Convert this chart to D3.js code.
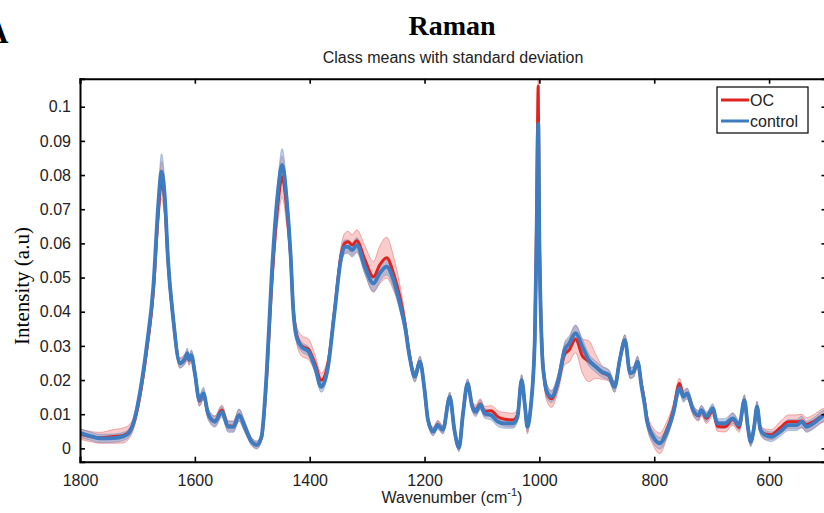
<!DOCTYPE html>
<html>
<head>
<meta charset="utf-8">
<script src="https://cdn.jsdelivr.net/npm/d3@7"></script>
<style>
  body { margin: 0; background: #fff; }
  svg { display: block; }
  .tick text { font-family: "Liberation Sans", Arial, sans-serif; font-size: 16px; fill: #222; }
</style>
</head>
<body>
<svg width="824" height="513"></svg>
<script>
// wavenumbers (cm-1)
const wavenumbers = [1800,1780,1765,1742,1725,1715,1707,1696,1684,1672,1664,1658,1652,1647,1638,1626,1617,1613,1610,1606,1600,1592,1585,1577,1565,1553,1542,1533,1523,1513,1501,1492,1484,1475,1466,1455,1448,1440,1433,1429,1423,1414,1402,1391,1380,1368,1357,1345,1339,1333,1326,1318,1304,1289,1278,1266,1254,1243,1234,1226,1217,1208,1200,1194,1185,1177,1168,1156,1148,1140,1133,1125,1117,1111,1103,1095,1084,1072,1060,1046,1038,1031,1025,1021,1015,1008,1005,1002,1000,998,995,991,988,979,967,956,948,937,925,914,902,891,879,869,860,851,842,836,829,822,816,813,802,790,779,767,756,749,743,732,723,718,709,698,690,677,663,652,643,637,632,626,621,615,607,596,581,566,552,543,535,523,508,500];

const controlMean = [.0045,.0035,.0029,.0030,.0035,.0045,.0074,.0160,.0297,.0480,.0707,.0810,.0727,.0560,.0385,.0249,.0263,.0278,.0260,.0273,.0220,.0141,.0161,.0102,.0078,.0107,.0063,.0063,.0097,.0063,.0019,.0010,.0034,.0220,.0512,.0756,.0830,.0727,.0560,.0415,.0327,.0297,.0283,.0239,.0180,.0239,.0395,.0560,.0590,.0590,.0580,.0595,.0532,.0483,.0512,.0532,.0493,.0424,.0356,.0268,.0210,.0254,.0171,.0083,.0049,.0068,.0054,.0151,.0054,.0002,.0102,.0190,.0122,.0107,.0127,.0102,.0097,.0078,.0073,.0073,.0093,.0200,.0122,.0063,.0122,.0317,.0610,.0950,.0600,.0420,.0270,.0200,.0171,.0151,.0200,.0288,.0307,.0337,.0297,.0259,.0239,.0224,.0215,.0180,.0259,.0317,.0220,.0224,.0254,.0180,.0120,.0083,.0034,.0015,.0044,.0102,.0176,.0151,.0161,.0112,.0097,.0112,.0093,.0117,.0073,.0073,.0088,.0068,.0141,.0063,.0019,.0063,.0122,.0054,.0039,.0034,.0049,.0068,.0068,.0078,.0063,.0073,.0093,.0100];

const controlStd = [.0013,.0012,.0012,.0012,.0012,.0012,.0013,.0016,.0020,.0027,.0037,.0052,.0042,.0032,.0022,.0014,.0014,.0016,.0014,.0016,.0014,.0016,.0018,.0016,.0016,.0016,.0016,.0016,.0018,.0016,.0012,.0012,.0012,.0016,.0027,.0037,.0047,.0042,.0032,.0027,.0017,.0014,.0014,.0016,.0016,.0016,.0016,.0022,.0020,.0020,.0020,.0022,.0022,.0024,.0024,.0024,.0024,.0022,.0020,.0016,.0016,.0016,.0014,.0012,.0012,.0012,.0012,.0014,.0012,.0012,.0012,.0014,.0014,.0014,.0014,.0014,.0014,.0014,.0014,.0014,.0014,.0016,.0016,.0014,.0014,.0022,.0032,.0035,.0032,.0027,.0022,.0022,.0022,.0017,.0022,.0022,.0022,.0024,.0022,.0017,.0016,.0016,.0016,.0016,.0016,.0016,.0016,.0016,.0016,.0016,.0016,.0016,.0017,.0017,.0017,.0016,.0016,.0016,.0016,.0014,.0014,.0014,.0014,.0014,.0014,.0014,.0016,.0014,.0016,.0014,.0014,.0014,.0016,.0014,.0014,.0014,.0014,.0016,.0016,.0016,.0016,.0016,.0016,.0016];

const ocMean = [.0042,.0034,.0031,.0035,.0038,.0048,.0072,.0150,.0285,.0465,.0680,.0785,.0710,.0555,.0385,.0250,.0262,.0272,.0258,.0270,.0220,.0138,.0158,.0100,.0080,.0112,.0066,.0065,.0098,.0063,.0020,.0010,.0030,.0205,.0480,.0720,.0795,.0700,.0555,.0420,.0335,.0300,.0290,.0250,.0200,.0250,.0400,.0570,.0600,.0605,.0595,.0608,.0553,.0502,.0537,.0558,.0512,.0444,.0365,.0272,.0210,.0254,.0171,.0083,.0050,.0070,.0055,.0151,.0054,.0003,.0102,.0190,.0125,.0112,.0130,.0108,.0110,.0092,.0085,.0083,.0098,.0200,.0122,.0063,.0122,.0320,.0650,.1060,.0620,.0430,.0280,.0200,.0168,.0145,.0195,.0275,.0288,.0320,.0270,.0255,.0240,.0222,.0212,.0180,.0259,.0317,.0220,.0224,.0254,.0185,.0128,.0090,.0035,.0015,.0050,.0110,.0190,.0155,.0160,.0110,.0095,.0110,.0088,.0110,.0065,.0063,.0085,.0062,.0141,.0063,.0019,.0063,.0122,.0054,.0042,.0040,.0060,.0078,.0078,.0080,.0070,.0078,.0095,.0100];

const ocStd = [.0015,.0015,.0016,.0020,.0022,.0020,.0018,.0018,.0020,.0030,.0040,.0055,.0045,.0030,.0020,.0015,.0015,.0015,.0015,.0015,.0013,.0015,.0015,.0015,.0015,.0015,.0015,.0015,.0017,.0015,.0010,.0010,.0010,.0015,.0030,.0050,.0060,.0050,.0030,.0025,.0025,.0030,.0030,.0025,.0020,.0020,.0020,.0025,.0030,.0030,.0030,.0032,.0040,.0045,.0055,.0060,.0050,.0035,.0025,.0018,.0015,.0015,.0012,.0010,.0012,.0012,.0012,.0012,.0010,.0010,.0010,.0012,.0012,.0015,.0015,.0015,.0015,.0018,.0020,.0020,.0015,.0015,.0015,.0020,.0015,.0020,.0030,.0020,.0030,.0025,.0025,.0025,.0025,.0025,.0025,.0030,.0035,.0040,.0050,.0060,.0035,.0020,.0015,.0015,.0015,.0015,.0015,.0015,.0015,.0015,.0020,.0020,.0025,.0030,.0025,.0020,.0015,.0015,.0015,.0015,.0015,.0015,.0015,.0015,.0015,.0015,.0018,.0015,.0015,.0012,.0012,.0012,.0015,.0012,.0015,.0015,.0018,.0020,.0020,.0020,.0020,.0020,.0020,.0020];

const xTicks = [1800, 1600, 1400, 1200, 1000, 800, 600];
const yTicks = [0, 0.01, 0.02, 0.03, 0.04, 0.05, 0.06, 0.07, 0.08, 0.09, 0.1];
const groups = ["OC", "control"];

function createChart() {
  const svg = d3.select("svg");
  const left = 80, right = 826.5, top = 78.7, bottom = 461.7;

  const x = d3.scaleLinear().domain([1800, 500]).range([left, right]);
  const y = d3.scaleLinear().domain([-0.0039, 0.1082]).range([bottom, top]);

  const series = [
    { name: "OC", mean: ocMean, std: ocStd, line: "#e1231f", fill: "#f08080", edge: "#e05a5a", op: 0.4 },
    { name: "control", mean: controlMean, std: controlStd, line: "#3d7cc0", fill: "#7c9fd4", edge: "#6d86b8", op: 0.5 },
  ];

  svg.append("clipPath").attr("id", "plot")
    .append("rect")
    .attr("x", left).attr("y", top)
    .attr("width", right - left).attr("height", bottom - top);

  const plot = svg.append("g").attr("clip-path", "url(#plot)");

  // std bands first, then the means on top
  series.forEach((s) => {
    const band = d3.area()
      .x((d, i) => x(wavenumbers[i]))
      .y0((d, i) => y(s.mean[i] - s.std[i]))
      .y1((d, i) => y(s.mean[i] + s.std[i]))
      .curve(d3.curveMonotoneX);
    plot.append("path")
      .datum(s.mean)
      .attr("d", band)
      .attr("fill", s.fill)
      .attr("fill-opacity", s.op)
      .attr("stroke", s.edge)
      .attr("stroke-opacity", 0.6)
      .attr("stroke-width", 0.8);
  });

  series.forEach((s) => {
    const line = d3.line()
      .x((d, i) => x(wavenumbers[i]))
      .y((d) => y(d))
      .curve(d3.curveMonotoneX);
    plot.append("path")
      .datum(s.mean)
      .attr("d", line)
      .attr("fill", "none")
      .attr("stroke", s.line)
      .attr("stroke-width", s.name === "OC" ? 3 : 3.8)
      .attr("stroke-linejoin", "round");
  });

  // axes box, ticks pointing inward
  const xAxis = svg.append("g")
    .attr("transform", `translate(0,${bottom})`)
    .call(d3.axisBottom(x).tickValues(xTicks).tickSize(-5).tickPadding(10).tickFormat(d3.format("d")));
  const xTop = svg.append("g")
    .attr("transform", `translate(0,${top})`)
    .call(d3.axisTop(x).tickValues(xTicks).tickSize(-5).tickFormat(""));
  const yAxis = svg.append("g")
    .attr("transform", `translate(${left},0)`)
    .call(d3.axisLeft(y).tickValues(yTicks).tickSize(-5).tickPadding(9).tickFormat((d) => d3.format("~g")(d)));
  const yRight = svg.append("g")
    .attr("transform", `translate(${right},0)`)
    .call(d3.axisRight(y).tickValues(yTicks).tickSize(-5).tickFormat(""));

  [xAxis, xTop, yAxis, yRight].forEach((g) => {
    g.select(".domain").attr("stroke", "#000").attr("stroke-width", 2);
    g.selectAll(".tick line").attr("stroke", "#000").attr("stroke-width", 1.6);
  });
  xAxis.selectAll(".tick text").attr("dy", "0.9em");

  // titles
  svg.append("text")
    .attr("x", -14).attr("y", 43)
    .style("font-family", "'Liberation Serif', 'Times New Roman', serif")
    .style("font-weight", "bold").style("font-size", "31px")
    .text("A");
  svg.append("text")
    .attr("x", 452).attr("y", 35)
    .attr("text-anchor", "middle")
    .style("font-family", "'Liberation Serif', 'Times New Roman', serif")
    .style("font-weight", "bold").style("font-size", "28px")
    .text("Raman");
  svg.append("text")
    .attr("x", 453).attr("y", 63)
    .attr("text-anchor", "middle")
    .style("font-family", "'Liberation Sans', Arial, sans-serif")
    .style("font-size", "16px").style("fill", "#222")
    .text("Class means with standard deviation");

  svg.append("text")
    .attr("transform", "translate(29,286) rotate(-90)")
    .attr("text-anchor", "middle")
    .style("font-family", "'Liberation Serif', 'Times New Roman', serif")
    .style("font-size", "21px")
    .text("Intensity (a.u)");

  const xl = svg.append("text")
    .attr("x", 452).attr("y", 503)
    .attr("text-anchor", "middle")
    .style("font-family", "'Liberation Sans', Arial, sans-serif")
    .style("font-size", "16px").style("fill", "#222");
  xl.append("tspan").text("Wavenumber (cm");
  xl.append("tspan").attr("dy", -7).style("font-size", "11px").text("-1");
  xl.append("tspan").attr("dy", 7).text(")");

  // legend
  const legend = svg.append("g").attr("transform", "translate(717,87)");
  legend.append("rect")
    .attr("width", 91).attr("height", 46)
    .attr("fill", "#fff").attr("stroke", "#000").attr("stroke-width", 1.2);
  legend.selectAll("g.item")
    .data(groups)
    .join("g")
    .attr("class", "item")
    .attr("transform", (d, i) => `translate(0,${13 + i * 21})`)
    .each(function (d, i) {
      const g = d3.select(this);
      g.append("line")
        .attr("x1", 4).attr("x2", 32)
        .attr("stroke", series[i].line).attr("stroke-width", 3);
      g.append("text")
        .attr("x", 33).attr("y", 6)
        .style("font-family", "'Liberation Sans', Arial, sans-serif")
        .style("font-size", "16px").style("fill", "#222")
        .text(d);
    });
}

createChart();
</script>
</body>
</html>
